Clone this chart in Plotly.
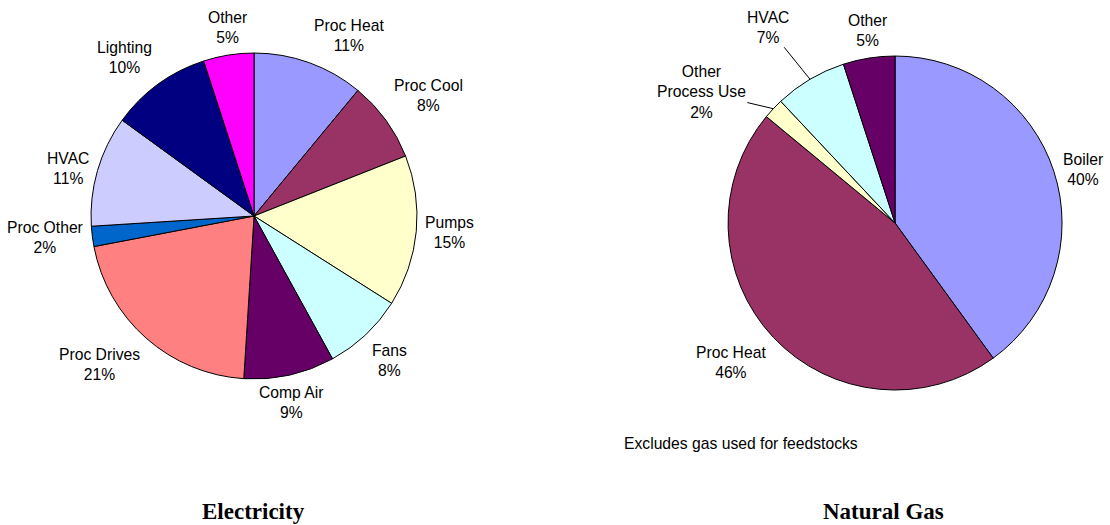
import math

import plotly.graph_objects as go

W, H = 1110, 525

# Electricity end use (percent), clockwise from 12 o'clock
elec_labels = ["Proc Heat", "Proc Cool", "Pumps", "Fans", "Comp Air",
               "Proc Drives", "Proc Other", "HVAC", "Lighting", "Other"]
elec_values = [11, 8, 15, 8, 9, 21, 2, 11, 10, 5]
elec_colors = ["#9999FF", "#993366", "#FFFFCC", "#CCFFFF", "#660066",
               "#FF8080", "#0066CC", "#CCCCFF", "#000080", "#FF00FF"]

# Natural gas end use (percent), clockwise from 12 o'clock
gas_labels = ["Boiler", "Proc Heat", "Other<br>Process Use", "HVAC", "Other"]
gas_values = [40, 46, 2, 7, 5]
gas_colors = ["#9999FF", "#993366", "#FFFFCC", "#CCFFFF", "#660066"]

ELEC_X, ELEC_Y = [0.0820, 0.3757], [0.2781, 0.8990]
GAS_X, GAS_Y = [0.6559, 0.9568], [0.2571, 0.8933]

LABEL_FONT = dict(family="Arial, Liberation Sans, sans-serif", size=15.7, color="#000000")
TITLE_FONT = dict(family="Times New Roman, Liberation Serif, serif", size=23, color="#000000")

# labels that sit away from the pie with a leader line (pixel offsets)
gas_callouts = {"HVAC": (-42, -52), "Other<br>Process Use": (-72, -17)}


def pie(labels, values, colors, dom_x, dom_y):
    return go.Pie(
        labels=labels,
        values=values,
        sort=False,
        direction="clockwise",
        rotation=0,
        textinfo="none",
        marker=dict(colors=colors, line=dict(color="#000000", width=1)),
        domain=dict(x=dom_x, y=dom_y),
        showlegend=False,
        hovertemplate="%{label}: %{value}%<extra></extra>",
    )


def add_labels(fig, labels, values, dom_x, dom_y, callouts=None, gap=7):
    callouts = callouts or {}
    cx = (dom_x[0] + dom_x[1]) / 2 * W
    cy = (1 - (dom_y[0] + dom_y[1]) / 2) * H
    r = min((dom_x[1] - dom_x[0]) * W, (dom_y[1] - dom_y[0]) * H) / 2
    total = sum(values)
    cum = 0
    for lab, v in zip(labels, values):
        ang = 2 * math.pi * (cum + v / 2) / total
        cum += v
        s, c = math.sin(ang), math.cos(ang)
        text = f"{lab}<br>{round(100 * v / total)}%"
        if lab in callouts:
            ax, ay = callouts[lab]
            fig.add_annotation(
                x=(cx + r * s) / W, y=1 - (cy - r * c) / H,
                xref="paper", yref="paper", text=text, font=LABEL_FONT,
                showarrow=True, arrowhead=0, arrowwidth=1, arrowcolor="#000000",
                ax=ax, ay=ay, standoff=0,
            )
            continue
        px = cx + (r + gap) * s
        py = cy - (r + gap) * c
        xa = "center" if abs(s) < 0.3 else ("left" if s > 0 else "right")
        ya = "middle" if abs(c) < 0.35 else ("bottom" if c > 0 else "top")
        fig.add_annotation(
            x=px / W, y=1 - py / H, xref="paper", yref="paper",
            text=text, font=LABEL_FONT, showarrow=False,
            xanchor=xa, yanchor=ya,
        )


fig = go.Figure()
fig.add_trace(pie(elec_labels, elec_values, elec_colors, ELEC_X, ELEC_Y))
fig.add_trace(pie(gas_labels, gas_values, gas_colors, GAS_X, GAS_Y))
add_labels(fig, elec_labels, elec_values, ELEC_X, ELEC_Y)
add_labels(fig, gas_labels, gas_values, GAS_X, GAS_Y, gas_callouts)

fig.add_annotation(x=622 / W, y=1 - 443 / H, xref="paper", yref="paper",
                   text="Excludes gas used for feedstocks", font=LABEL_FONT,
                   showarrow=False, xanchor="left", yanchor="middle")
fig.add_annotation(x=253 / W, y=1 - 511 / H, xref="paper", yref="paper",
                   text="<b>Electricity</b>", font=TITLE_FONT,
                   showarrow=False, xanchor="center", yanchor="middle")
fig.add_annotation(x=883 / W, y=1 - 511 / H, xref="paper", yref="paper",
                   text="<b>Natural Gas</b>", font=TITLE_FONT,
                   showarrow=False, xanchor="center", yanchor="middle")

fig.update_layout(
    width=W,
    height=H,
    margin=dict(l=0, r=0, t=0, b=0),
    paper_bgcolor="#FFFFFF",
    plot_bgcolor="#FFFFFF",
    font=LABEL_FONT,
)

# drop the default page margin so the figure fills the window exactly
fig.write_html(
    "out.html",
    config={"displayModeBar": False},
    post_script="document.body.style.margin='0';document.body.style.overflow='hidden';",
)
